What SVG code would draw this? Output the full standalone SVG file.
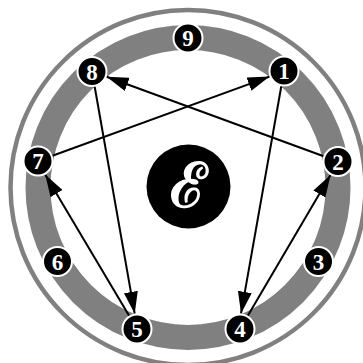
<svg xmlns="http://www.w3.org/2000/svg" width="363" height="363" viewBox="0 0 363 363">
<style>
.node circle{fill:#000;stroke:#fff;stroke-width:2}
.node text{fill:#fff;font-family:"Liberation Serif","DejaVu Serif",serif;font-weight:bold;font-size:23px;text-anchor:middle}
.conn line{stroke:#000;stroke-width:2;marker-end:url(#ah)}
</style>
<defs>
<marker id="ah" markerUnits="userSpaceOnUse" markerWidth="22" markerHeight="14" refX="22" refY="7" orient="auto">
<path d="M0,0 L22,7 L0,14 Z" fill="#000"/>
</marker>
</defs>
<rect width="363" height="363" fill="#fff"/>
<circle cx="188" cy="187.5" r="177.5" fill="none" stroke="#808080" stroke-width="4.5"/>
<circle cx="188" cy="187.5" r="150" fill="none" stroke="#808080" stroke-width="25"/>
<g id="center">
<circle cx="188.5" cy="186.5" r="42" fill="#000"/>
<text x="188.5" y="207" fill="#fff" stroke="#fff" stroke-width="1.6" font-family="'DejaVu Serif',serif" font-size="62" text-anchor="middle">ℰ</text>
</g>
<g id="connectors" class="conn">
<line x1="284" y1="71" x2="241.0" y2="313.6"/>
<line x1="240" y1="329" x2="330.5" y2="175.0"/>
<line x1="338" y1="161.5" x2="106.6" y2="76.8"/>
<line x1="92" y1="71.5" x2="134.7" y2="313.7"/>
<line x1="137" y1="329" x2="45.3" y2="174.7"/>
<line x1="38" y1="161" x2="269.6" y2="76.6"/>
</g>
<g id="n9" class="node"><circle cx="188" cy="38" r="14.5"/><text x="188" y="46">9</text></g>
<g id="n1" class="node"><circle cx="284" cy="71" r="14.5"/><text x="284" y="79">1</text></g>
<g id="n2" class="node"><circle cx="338" cy="161.5" r="14.5"/><text x="338" y="169.5">2</text></g>
<g id="n3" class="node"><circle cx="318.5" cy="261.5" r="14.5"/><text x="318.5" y="269.5">3</text></g>
<g id="n4" class="node"><circle cx="240" cy="329" r="14.5"/><text x="240" y="337">4</text></g>
<g id="n5" class="node"><circle cx="137" cy="329" r="14.5"/><text x="137" y="337">5</text></g>
<g id="n6" class="node"><circle cx="57.5" cy="261.5" r="14.5"/><text x="57.5" y="269.5">6</text></g>
<g id="n7" class="node"><circle cx="38" cy="161" r="14.5"/><text x="38" y="169">7</text></g>
<g id="n8" class="node"><circle cx="92" cy="71.5" r="14.5"/><text x="92" y="79.5">8</text></g>
</svg>
